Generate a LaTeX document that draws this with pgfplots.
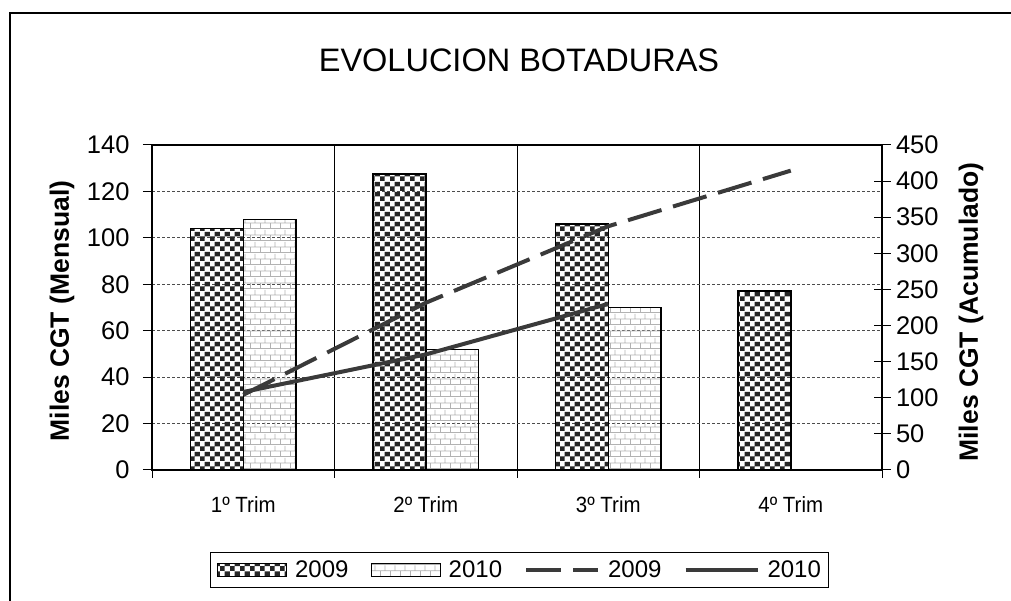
\documentclass[border=0pt]{standalone}
\usepackage{pgfplots}
\pgfplotsset{compat=1.18}
\usepackage{fontspec}
\setmainfont{Liberation Sans}
\newfontfamily\narrowfont[FakeStretch=0.93]{Liberation Sans}
\usetikzlibrary{patterns.meta}
\definecolor{darkline}{HTML}{3A3A3A}
\pgfdeclarepattern{
  name=checker, type=colored,
  bottom left={\pgfpoint{0pt}{0pt}}, top right={\pgfpoint{10pt}{10pt}},
  tile size={\pgfpoint{10pt}{10pt}},
  code={
    \pgfsetfillcolor{black!85}
    \pgfpathrectangle{\pgfpointorigin}{\pgfpoint{5pt}{5pt}}
    \pgfpathrectangle{\pgfpoint{5pt}{5pt}}{\pgfpoint{5pt}{5pt}}
    \pgfusepath{fill}
  }
}
\pgfdeclarepattern{
  name=brick, type=colored,
  bottom left={\pgfpoint{0pt}{0pt}}, top right={\pgfpoint{10pt}{12pt}},
  tile size={\pgfpoint{10pt}{12pt}},
  code={
    \pgfsetstrokecolor{black!30}
    \pgfsetlinewidth{0.9pt}
    \pgfpathmoveto{\pgfpoint{0pt}{0.5pt}}\pgfpathlineto{\pgfpoint{10pt}{0.5pt}}
    \pgfpathmoveto{\pgfpoint{0pt}{6.5pt}}\pgfpathlineto{\pgfpoint{10pt}{6.5pt}}
    \pgfpathmoveto{\pgfpoint{0.5pt}{0pt}}\pgfpathlineto{\pgfpoint{0.5pt}{6.5pt}}
    \pgfpathmoveto{\pgfpoint{5.5pt}{6.5pt}}\pgfpathlineto{\pgfpoint{5.5pt}{12pt}}
    \pgfusepath{stroke}
  }
}
\begin{document}
\begin{tikzpicture}[x=1pt,y=1pt]
\path[use as bounding box] (0,0) rectangle (1011,601);
\draw[line width=1.5pt] (10,0) -- (10,588) -- (1011,588);
\node[font=\fontsize{32.5}{38}\selectfont] at (519,541) {EVOLUCION BOTADURAS};
\begin{axis}[
  at={(152pt,131pt)}, anchor=south west,
  scale only axis, width=730pt, height=325pt,
  xmin=0.5, xmax=4.5, ymin=0, ymax=140,
  ytick distance=20,
  xtick={1,2,3,4}, xticklabels={1º Trim,2º Trim,3º Trim,4º Trim},
  major x tick style={draw=none},
  minor xtick={0.5,1.5,2.5,3.5,4.5},
  xminorgrids, minor x grid style={black, line width=0.8pt},
  ymajorgrids, major y grid style={black!70, dash pattern=on 3pt off 2pt, line width=0.8pt},
  tick align=outside, xtick pos=bottom, ytick pos=left,
  major tick length=9pt, minor tick length=8pt,
  axis line style={line width=1.5pt},
  tick style={black, line width=1pt},
  /pgf/number format/assume math mode=true,
  yticklabel style={font=\fontsize{25.5}{28}\selectfont, xshift=-10pt},
  xticklabel style={font=\narrowfont\fontsize{22}{25}\selectfont, yshift=-14pt},
  ylabel={Miles CGT (Mensual)},
  every axis y label/.style={at={(axis description cs:-0.1233,0.489)}, rotate=90, anchor=center, font=\bfseries\fontsize{26.5}{30}\selectfont},
]
\addplot[ybar, bar width=0.29, bar shift=-0.145, draw=black, line width=1.5pt, pattern=checker] coordinates {(1,104) (2,127.5) (3,106) (4,77)};
\addplot[ybar, bar width=0.29, bar shift=0.145, draw=black, line width=1.5pt, pattern=brick] coordinates {(1,108) (2,52) (3,70)};
\end{axis}
\begin{axis}[
  at={(152pt,131pt)}, anchor=south west,
  scale only axis, width=730pt, height=325pt,
  xmin=0.5, xmax=4.5, ymin=0, ymax=450,
  ytick distance=50,
  axis y line*=right, axis x line=none,
  tick align=center, major tick length=17pt,
  axis line style={line width=1.5pt},
  tick style={black, line width=1pt},
  /pgf/number format/assume math mode=true,
  yticklabel style={font=\fontsize{25.5}{28}\selectfont, xshift=2pt},
  ylabel={Miles CGT (Acumulado)},
  every axis y label/.style={at={(axis description cs:1.1219,0.486)}, rotate=90, anchor=center, font=\bfseries\fontsize{26.5}{30}\selectfont},
  legend columns=4,
  legend style={at={(0.504,-0.3077)}, anchor=center, draw=black, line width=1pt,
    font=\fontsize{24}{28}\selectfont, inner xsep=6pt, inner ysep=6pt,
    /tikz/every odd column/.append style={column sep=6pt},
    /tikz/every even column/.append style={column sep=20pt}},
  legend image code/.code={\draw[#1] (0pt,0pt) -- (72pt,0pt);},
]
\addlegendimage{legend image code/.code={\draw[black, line width=1.2pt, pattern=checker] (0pt,-6.5pt) rectangle (69pt,6.5pt);}}
\addlegendentry{2009}
\addlegendimage{legend image code/.code={\draw[black, line width=1.2pt, pattern=brick] (0pt,-6.5pt) rectangle (69pt,6.5pt);}}
\addlegendentry{2010}
\addplot[line width=4pt, color=darkline, dash pattern=on 35pt off 12pt] coordinates {(1,104) (2,231.5) (3,337.5) (4,414.5)};
\addlegendentry{2009}
\addplot[line width=4pt, color=darkline] coordinates {(1,108) (2,160) (3,230)};
\addlegendentry{2010}
\end{axis}
\end{tikzpicture}
\end{document}
